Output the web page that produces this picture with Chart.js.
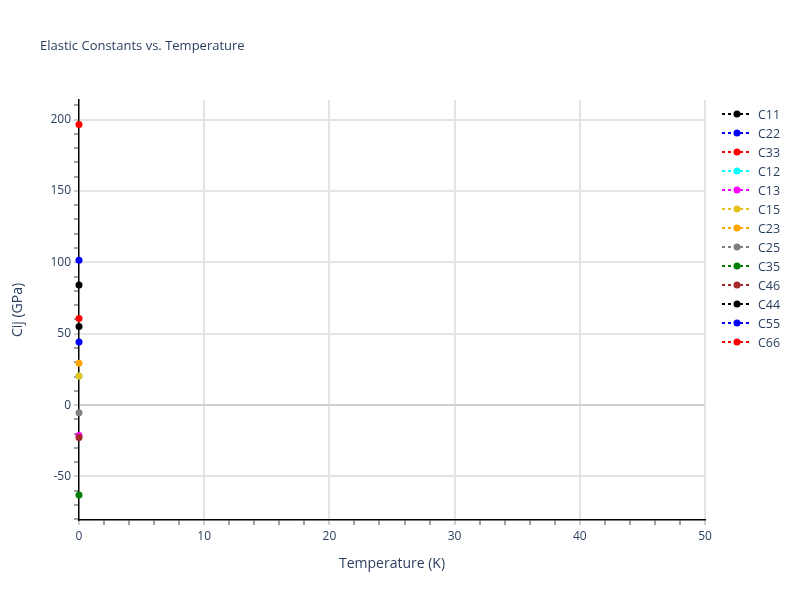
<!DOCTYPE html>
<html>
<head>
<meta charset="utf-8">
<script src="https://cdn.jsdelivr.net/npm/chart.js@4.4.1/dist/chart.umd.min.js"></script>
<style>
  html, body { margin: 0; padding: 0; background: #fff; }
  #wrap { width: 800px; height: 600px; }
</style>
</head>
<body>
<div id="wrap"><canvas id="grafica"></canvas></div>
<script>
// datos (todos los puntos a T = 0 K)
const series = ['C11', 'C22', 'C33', 'C12', 'C13', 'C15', 'C23', 'C25', 'C35', 'C46', 'C44', 'C55', 'C66'];
const temperaturas = [0, 0, 0, 0, 0, 0, 0, 0, 0, 0, 0, 0, 0];
const valores = [84.1, 101.5, 196.6, 20.4, -21.3, 20.4, 29.3, -5.3, -63, -22.7, 55, 44.2, 60.6];
const colores = ['#000000', '#0000ff', '#ff0000', '#00ffff', '#ff00ff', '#e6c21c', '#ffa500', '#808080', '#008000', '#a52a2a', '#000000', '#0000ff', '#ff0000'];
const ticksX = [0, 2, 4, 6, 8, 10, 12, 14, 16, 18, 20, 22, 24, 26, 28, 30, 32, 34, 36, 38, 40, 42, 44, 46, 48, 50];
const ticksY = [-80, -70, -60, -50, -40, -30, -20, -10, 0, 10, 20, 30, 40, 50, 60, 70, 80, 90, 100, 110, 120, 130, 140, 150, 160, 170, 180, 190, 200, 210];

const TEXTO = '#2a3f5f';
const FUENTE = '"Open Sans", Verdana, Arial, sans-serif';

function esMayorX(v) { return v % 10 === 0; }
function esMayorY(v) { return v % 50 === 0; }

const datasets = series.map((nombre, i) => ({
    label: nombre,
    data: [{ x: temperaturas[i], y: valores[i] }],
    borderColor: colores[i],
    backgroundColor: colores[i],
    borderWidth: 2,
    borderDash: [3, 3],
    pointRadius: 3.5,
    pointHoverRadius: 3.5,
    pointBorderWidth: 0,
    showLine: true,
    clip: false,
    order: -i
}));

// leyenda y titulo dibujados a mano (estilo plotly)
const extras = {
    id: 'extras',
    afterDraw(chart) {
        const ctx = chart.ctx;
        ctx.save();
        ctx.fillStyle = TEXTO;
        ctx.font = '13px ' + FUENTE;
        ctx.textBaseline = 'middle';
        ctx.textAlign = 'left';
        ctx.fillText('Elastic Constants vs. Temperature', 40, 46);

        ctx.font = '12.5px ' + FUENTE;
        series.forEach((nombre, i) => {
            const y = 114 + i * 19;
            ctx.strokeStyle = colores[i];
            ctx.lineWidth = 2;
            ctx.setLineDash([3, 3]);
            ctx.beginPath();
            ctx.moveTo(722, y);
            ctx.lineTo(752, y);
            ctx.stroke();
            ctx.setLineDash([]);
            ctx.fillStyle = colores[i];
            ctx.beginPath();
            ctx.arc(737, y, 3.5, 0, Math.PI * 2);
            ctx.fill();
            ctx.fillStyle = TEXTO;
            ctx.fillText(nombre, 758, y + 1);
        });
        ctx.restore();
    }
};

const ctx = document.getElementById('grafica').getContext('2d');
new Chart(ctx, {
    type: 'line',
    data: { datasets: datasets },
    plugins: [extras],
    options: {
        responsive: true,
        maintainAspectRatio: false,
        animation: false,
        layout: { padding: { top: 100, right: 95, bottom: 0, left: 0 } },
        plugins: {
            legend: { display: false },
            title: { display: false },
            tooltip: { enabled: false }
        },
        scales: {
            x: {
                type: 'linear',
                min: 0,
                max: 50,
                afterBuildTicks: (scale) => { scale.ticks = ticksX.map(v => ({ value: v })); },
                afterFit: (scale) => { scale.height = 80; },
                ticks: {
                    autoSkip: false,
                    maxRotation: 0,
                    padding: 4,
                    color: TEXTO,
                    font: { family: FUENTE, size: 12 },
                    callback: (v) => esMayorX(v) ? String(v) : ''
                },
                grid: {
                    color: (c) => (c.tick && esMayorX(c.tick.value) && c.tick.value !== 0) ? '#e4e4e4' : 'rgba(0,0,0,0)',
                    lineWidth: 2,
                    tickLength: 5,
                    tickColor: (c) => (c.tick && esMayorX(c.tick.value)) ? '#a0a0a0' : '#444444',
                    tickWidth: 1
                },
                border: { display: true, color: '#000000', width: 1.5 },
                title: {
                    display: true,
                    text: 'Temperature (K)',
                    color: TEXTO,
                    font: { family: FUENTE, size: 14 },
                    padding: { top: 0, bottom: 28 }
                }
            },
            y: {
                type: 'linear',
                min: -80.5,
                max: 213.7,
                afterBuildTicks: (scale) => { scale.ticks = ticksY.map(v => ({ value: v })); },
                afterFit: (scale) => { scale.width = 79; },
                ticks: {
                    autoSkip: false,
                    padding: 3,
                    color: TEXTO,
                    font: { family: FUENTE, size: 12 },
                    callback: (v) => esMayorY(v) ? String(v) : ''
                },
                grid: {
                    color: (c) => {
                        if (!c.tick) return 'rgba(0,0,0,0)';
                        if (c.tick.value === 0) return '#cfcfcf';
                        return esMayorY(c.tick.value) ? '#e4e4e4' : 'rgba(0,0,0,0)';
                    },
                    lineWidth: 2,
                    tickLength: 5,
                    tickColor: (c) => (c.tick && esMayorY(c.tick.value)) ? '#a0a0a0' : '#444444',
                    tickWidth: 1
                },
                border: { display: true, color: '#000000', width: 1.5 },
                title: {
                    display: true,
                    text: 'Cij (GPa)',
                    color: TEXTO,
                    font: { family: FUENTE, size: 14 },
                    padding: { top: 10, bottom: 0 }
                }
            }
        }
    }
});
</script>
</body>
</html>
